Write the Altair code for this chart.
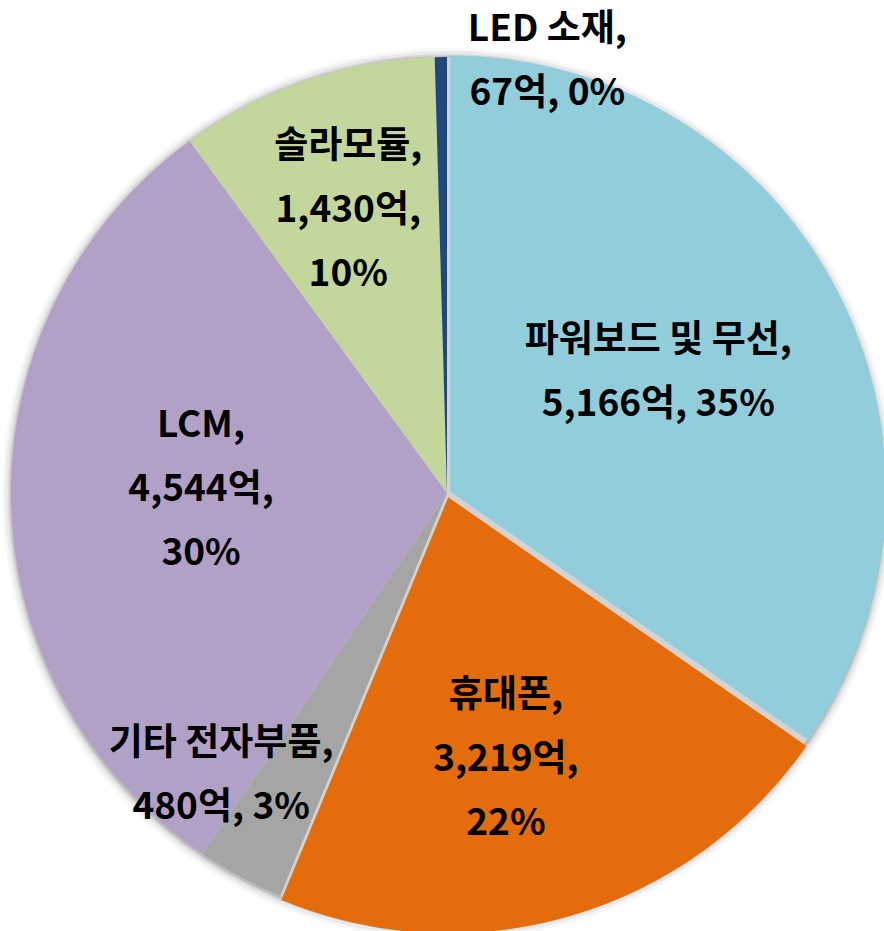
import math
import altair as alt
import pandas as pd

# ---- data ----
categories = ["파워보드 및 무선", "휴대폰", "기타 전자부품", "LCM", "솔라모듈", "LED 소재"]
values = [5166, 3219, 480, 4544, 1430, 67]          # 억
percents = [35, 22, 3, 30, 10, 0]                    # %
label_lines = [2, 3, 2, 3, 3, 2]                     # how each label wraps
colors = ["#92CDDC", "#E46C0A", "#A5A5A5", "#B2A1C7", "#C3D69B", "#1F497D"]

# ---- layout constants ----
W, H = 884, 931
CX, CY = 447, 493
R = 436
explode = {0: 3.5, 1: 4.5}                          # px offset of pulled-out slices
label_r = [243, 273, 362, 246, 299, 443]            # label radius (px)
label_dtheta = [-2.0, 3.9, 10.3, 1.7, -0.4, 13.9]   # label angle offset (deg)
FONT = "Noto Sans CJK KR"
FS = 37
LH = 64


def make_label(i):
    name, v, p = categories[i], values[i], percents[i]
    vs = f"{v:,}억"
    if label_lines[i] == 2:
        return f"{name},\n{vs}, {p}%"
    return f"{name},\n{vs},\n{p}%"


df = pd.DataFrame({
    "idx": list(range(len(categories))),
    "category": categories,
    "value": values,
    "label": [make_label(i) for i in range(len(categories))],
})

TWO_PI = 2 * math.pi
base = (
    alt.Chart(df)
    .transform_joinaggregate(total="sum(value)")
    .transform_window(cum="sum(value)", sort=[alt.SortField("idx")], frame=[None, 0])
    .transform_calculate(
        start=f"(datum.cum - datum.value) / datum.total * {TWO_PI}",
        end=f"datum.cum / datum.total * {TWO_PI}",
    )
    .transform_calculate(mid="(datum.start + datum.end) / 2")
)

color_enc = alt.Color(
    "category:N",
    scale=alt.Scale(domain=categories, range=colors),
    legend=None,
)

layers = []

# soft shadow / glow around the pie
for k, (rr, op) in enumerate([(446, 0.03), (443, 0.05), (440, 0.08), (438, 0.12)]):
    layers.append(
        alt.Chart(pd.DataFrame({"a": [0.0], "b": [TWO_PI]}))
        .mark_arc(radius=rr, color="#000000", opacity=op)
        .encode(
            theta=alt.Theta("a:Q", scale=None),
            theta2="b:Q",
            x=alt.value(CX + 1),
            y=alt.value(CY + 1),
        )
    )
# light grey disc visible in the gaps of pulled-out slices
layers.append(
    alt.Chart(pd.DataFrame({"a": [0.0], "b": [TWO_PI]}))
    .mark_arc(radius=R, color="#D3D3D3")
    .encode(
        theta=alt.Theta("a:Q", scale=None),
        theta2="b:Q",
        x=alt.value(CX),
        y=alt.value(CY),
    )
)

# regular slices
not_exploded = " && ".join(f"datum.idx != {i}" for i in explode)
layers.append(
    base.transform_filter(not_exploded)
    .mark_arc(radius=R)
    .encode(
        theta=alt.Theta("start:Q", scale=None),
        theta2="end:Q",
        color=color_enc,
        x=alt.value(CX),
        y=alt.value(CY),
    )
)

# pulled-out slices
total = sum(values)
cum = 0
mids = []
for v in values:
    mids.append((cum + v / 2) / total * TWO_PI)
    cum += v
for i, d in explode.items():
    dx = d * math.sin(mids[i])
    dy = -d * math.cos(mids[i])
    layers.append(
        base.transform_filter(f"datum.idx == {i}")
        .mark_arc(radius=R)
        .encode(
            theta=alt.Theta("start:Q", scale=None),
            theta2="end:Q",
            color=color_enc,
            x=alt.value(CX + dx),
            y=alt.value(CY + dy),
        )
    )

# labels
for i in range(len(categories)):
    off = math.radians(label_dtheta[i])
    layers.append(
        base.transform_filter(f"datum.idx == {i}")
        .transform_calculate(lt=f"datum.mid + {off}")
        .mark_text(
            radius=label_r[i],
            font=FONT,
            fontSize=FS,
            fontWeight="bold",
            lineHeight=LH,
            lineBreak="\n",
            align="center",
            baseline="middle",
            dy=-(label_lines[i] - 1) * LH / 2,
            color="#000000",
        )
        .encode(
            theta=alt.Theta("lt:Q", scale=None),
            text="label:N",
            x=alt.value(CX),
            y=alt.value(CY),
        )
    )

chart = (
    alt.layer(*layers)
    .properties(
        width=W,
        height=H,
        padding=0,
        autosize=alt.AutoSizeParams(type="none"),
        background="#FFFFFF",
    )
    .configure_view(stroke=None)
)

chart.save("out.html", embed_options={"renderer": "svg", "actions": False})
